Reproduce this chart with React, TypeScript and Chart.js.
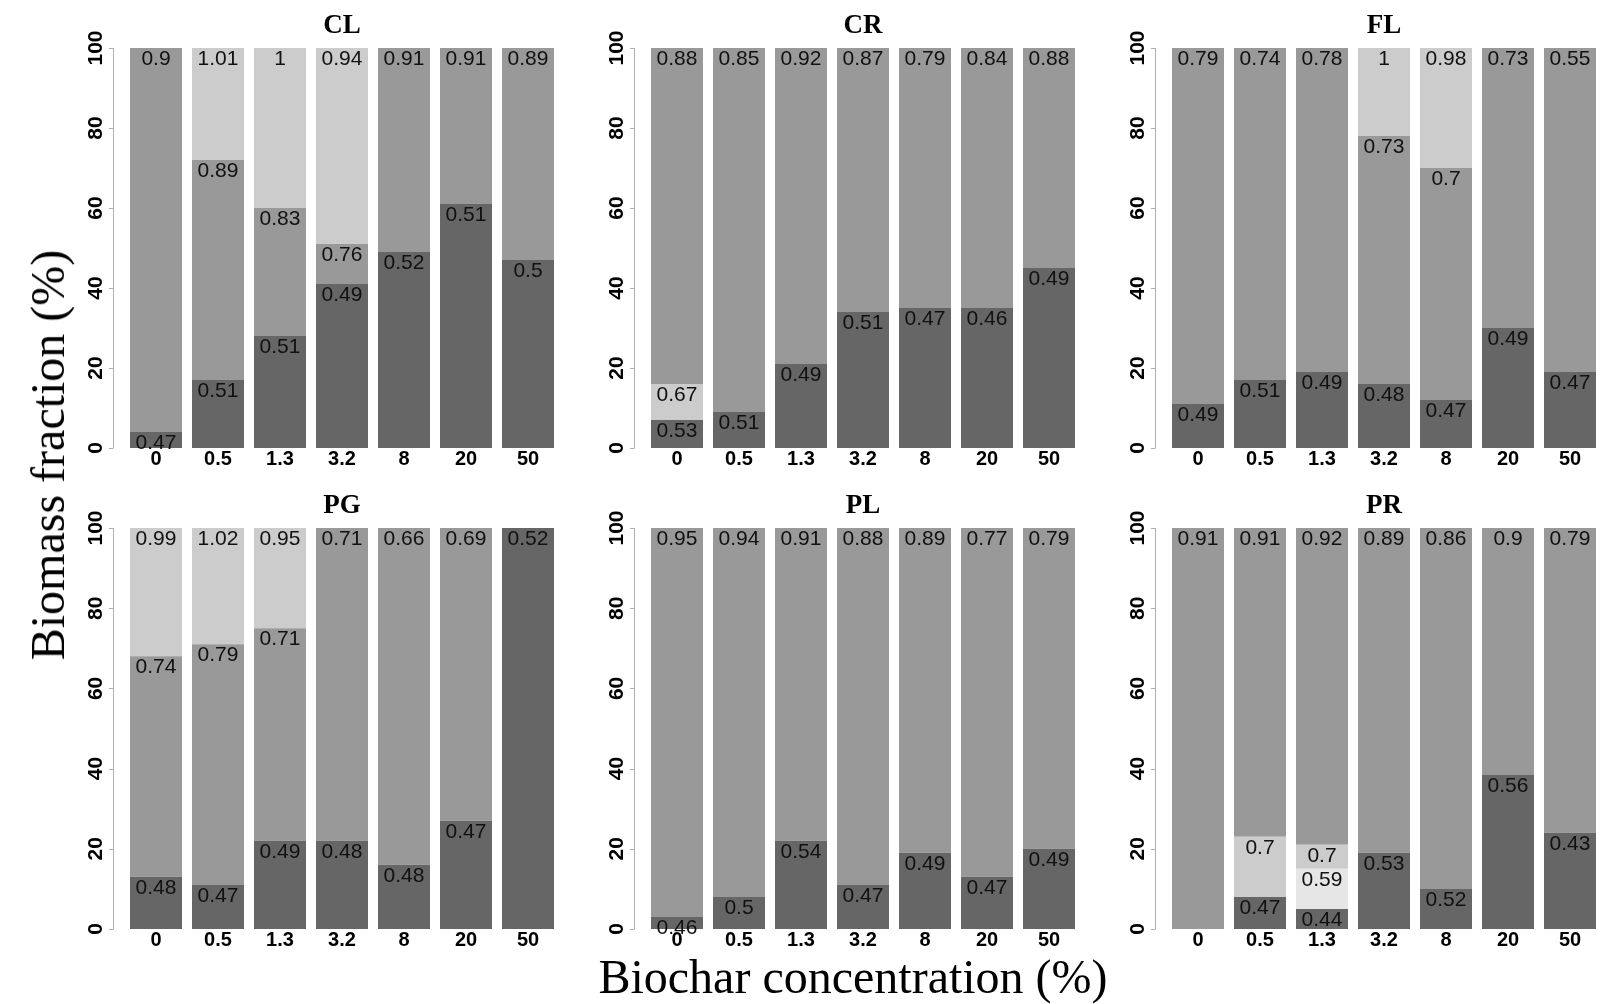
import React, { useEffect, useRef } from 'react';
import { Chart, registerables } from 'chart.js';

Chart.register(...registerables);

const CATEGORIES = ['0', '0.5', '1.3', '3.2', '8', '20', '50'];
const Y_TICKS = [0, 20, 40, 60, 80, 100];
const SHADE: Record<string, string> = { D: '#666666', M: '#999999', L: '#cccccc', X: '#e6e6e6' };

// CL
const CL_TOP_1 = [4, 17, 28, 41, 49, 61, 47];
const CL_LAB_1 = [0.47, 0.51, 0.51, 0.49, 0.52, 0.51, 0.5];
const CL_SHD_1 = 'DDDDDDD';
const CL_TOP_2 = [100, 72, 60, 51, 100, 100, 100];
const CL_LAB_2 = [0.9, 0.89, 0.83, 0.76, 0.91, 0.91, 0.89];
const CL_SHD_2 = 'MMMMMMM';
const CL_TOP_3 = [null, 100, 100, 100, null, null, null];
const CL_LAB_3 = [null, 1.01, 1, 0.94, null, null, null];
const CL_SHD_3 = '.LLL...';

// CR
const CR_TOP_1 = [7, 9, 21, 34, 35, 35, 45];
const CR_LAB_1 = [0.53, 0.51, 0.49, 0.51, 0.47, 0.46, 0.49];
const CR_SHD_1 = 'DDDDDDD';
const CR_TOP_2 = [16, 100, 100, 100, 100, 100, 100];
const CR_LAB_2 = [0.67, 0.85, 0.92, 0.87, 0.79, 0.84, 0.88];
const CR_SHD_2 = 'LMMMMMM';
const CR_TOP_3 = [100, null, null, null, null, null, null];
const CR_LAB_3 = [0.88, null, null, null, null, null, null];
const CR_SHD_3 = 'M......';

// FL
const FL_TOP_1 = [11, 17, 19, 16, 12, 30, 19];
const FL_LAB_1 = [0.49, 0.51, 0.49, 0.48, 0.47, 0.49, 0.47];
const FL_SHD_1 = 'DDDDDDD';
const FL_TOP_2 = [100, 100, 100, 78, 70, 100, 100];
const FL_LAB_2 = [0.79, 0.74, 0.78, 0.73, 0.7, 0.73, 0.55];
const FL_SHD_2 = 'MMMMMMM';
const FL_TOP_3 = [null, null, null, 100, 100, null, null];
const FL_LAB_3 = [null, null, null, 1, 0.98, null, null];
const FL_SHD_3 = '...LL..';

// PG
const PG_TOP_1 = [13, 11, 22, 22, 16, 27, 100];
const PG_LAB_1 = [0.48, 0.47, 0.49, 0.48, 0.48, 0.47, 0.52];
const PG_SHD_1 = 'DDDDDDD';
const PG_TOP_2 = [68, 71, 75, 100, 100, 100, null];
const PG_LAB_2 = [0.74, 0.79, 0.71, 0.71, 0.66, 0.69, null];
const PG_SHD_2 = 'MMMMMM.';
const PG_TOP_3 = [100, 100, 100, null, null, null, null];
const PG_LAB_3 = [0.99, 1.02, 0.95, null, null, null, null];
const PG_SHD_3 = 'LLL....';

// PL
const PL_TOP_1 = [3, 8, 22, 11, 19, 13, 20];
const PL_LAB_1 = [0.46, 0.5, 0.54, 0.47, 0.49, 0.47, 0.49];
const PL_SHD_1 = 'DDDDDDD';
const PL_TOP_2 = [100, 100, 100, 100, 100, 100, 100];
const PL_LAB_2 = [0.95, 0.94, 0.91, 0.88, 0.89, 0.77, 0.79];
const PL_SHD_2 = 'MMMMMMM';

// PR
const PR_TOP_1 = [null, 8, 5, 19, 10, 38.5, 24];
const PR_LAB_1 = [null, 0.47, 0.44, 0.53, 0.52, 0.56, 0.43];
const PR_SHD_1 = '.DDDDDD';
const PR_TOP_2 = [100, 23, 15, 100, 100, 100, 100];
const PR_LAB_2 = [0.91, 0.7, 0.59, 0.89, 0.86, 0.9, 0.79];
const PR_SHD_2 = 'MLXMMMM';
const PR_TOP_3 = [null, 100, 21, null, null, null, null];
const PR_LAB_3 = [null, 0.91, 0.7, null, null, null, null];
const PR_SHD_3 = '.ML....';
const PR_TOP_4 = [null, null, 100, null, null, null, null];
const PR_LAB_4 = [null, null, 0.92, null, null, null, null];
const PR_SHD_4 = '..M....';

type Level = { tops: (number | null)[]; labels: (number | null)[]; shades: string };
type Panel = { title: string; row: number; col: number; levels: Level[] };

const PANELS: Panel[] = [
  { title: 'CL', row: 0, col: 0, levels: [
    { tops: CL_TOP_1, labels: CL_LAB_1, shades: CL_SHD_1 },
    { tops: CL_TOP_2, labels: CL_LAB_2, shades: CL_SHD_2 },
    { tops: CL_TOP_3, labels: CL_LAB_3, shades: CL_SHD_3 },
  ] },
  { title: 'CR', row: 0, col: 1, levels: [
    { tops: CR_TOP_1, labels: CR_LAB_1, shades: CR_SHD_1 },
    { tops: CR_TOP_2, labels: CR_LAB_2, shades: CR_SHD_2 },
    { tops: CR_TOP_3, labels: CR_LAB_3, shades: CR_SHD_3 },
  ] },
  { title: 'FL', row: 0, col: 2, levels: [
    { tops: FL_TOP_1, labels: FL_LAB_1, shades: FL_SHD_1 },
    { tops: FL_TOP_2, labels: FL_LAB_2, shades: FL_SHD_2 },
    { tops: FL_TOP_3, labels: FL_LAB_3, shades: FL_SHD_3 },
  ] },
  { title: 'PG', row: 1, col: 0, levels: [
    { tops: PG_TOP_1, labels: PG_LAB_1, shades: PG_SHD_1 },
    { tops: PG_TOP_2, labels: PG_LAB_2, shades: PG_SHD_2 },
    { tops: PG_TOP_3, labels: PG_LAB_3, shades: PG_SHD_3 },
  ] },
  { title: 'PL', row: 1, col: 1, levels: [
    { tops: PL_TOP_1, labels: PL_LAB_1, shades: PL_SHD_1 },
    { tops: PL_TOP_2, labels: PL_LAB_2, shades: PL_SHD_2 },
  ] },
  { title: 'PR', row: 1, col: 2, levels: [
    { tops: PR_TOP_1, labels: PR_LAB_1, shades: PR_SHD_1 },
    { tops: PR_TOP_2, labels: PR_LAB_2, shades: PR_SHD_2 },
    { tops: PR_TOP_3, labels: PR_LAB_3, shades: PR_SHD_3 },
    { tops: PR_TOP_4, labels: PR_LAB_4, shades: PR_SHD_4 },
  ] },
];

const SANS = "'Liberation Sans', Arial, sans-serif";
const SERIF = "'Liberation Serif', 'Times New Roman', serif";

const decorPlugin = {
  id: 'panelDecor',
  afterDatasetsDraw(chart: any, _args: any, opts: any) {
    const ctx = chart.ctx as CanvasRenderingContext2D;
    const xs = chart.scales.x;
    const ys = chart.scales.y;
    const area = chart.chartArea;
    const levels: Level[] = opts.levels;
    ctx.save();
    // value labels at the top of every segment
    ctx.fillStyle = '#111111';
    ctx.font = `21px ${SANS}`;
    ctx.textAlign = 'center';
    ctx.textBaseline = 'alphabetic';
    levels.forEach((lv) => {
      lv.tops.forEach((t, i) => {
        const lab = lv.labels[i];
        if (t == null || lab == null) return;
        const x = xs.getPixelForValue(i);
        const y = ys.getPixelForValue(t);
        ctx.fillText(String(lab), x, y + 17);
      });
    });
    // y axis
    const axX = area.left - 12;
    ctx.strokeStyle = '#b0b0b0';
    ctx.lineWidth = 1;
    ctx.beginPath();
    ctx.moveTo(axX + 0.5, ys.getPixelForValue(0));
    ctx.lineTo(axX + 0.5, ys.getPixelForValue(100));
    Y_TICKS.forEach((v) => {
      const y = Math.round(ys.getPixelForValue(v)) + 0.5;
      ctx.moveTo(axX + 0.5, y);
      ctx.lineTo(axX - 4, y);
    });
    ctx.stroke();
    ctx.fillStyle = '#000000';
    ctx.font = `bold 21px ${SANS}`;
    ctx.textBaseline = 'middle';
    Y_TICKS.forEach((v) => {
      const y = ys.getPixelForValue(v);
      ctx.save();
      ctx.translate(axX - 17, y);
      ctx.rotate(-Math.PI / 2);
      ctx.fillText(String(v), 0, 0);
      ctx.restore();
    });
    // x tick labels
    ctx.font = `bold 20px ${SANS}`;
    ctx.textBaseline = 'middle';
    CATEGORIES.forEach((c, i) => {
      ctx.fillText(c, xs.getPixelForValue(i), area.bottom + 11);
    });
    // panel title
    ctx.font = `bold 27px ${SERIF}`;
    ctx.textBaseline = 'alphabetic';
    ctx.fillText(opts.title, (area.left + area.right) / 2, area.top - 15);
    ctx.restore();
  },
};

function PanelChart({ panel }: { panel: Panel }) {
  const ref = useRef<HTMLCanvasElement | null>(null);
  const top = panel.row === 0 ? 0 : 480;
  const height = panel.row === 0 ? 480 : 500;
  const padBottom = panel.row === 0 ? 32 : 51;
  const left = panel.col * 521 + 65;
  useEffect(() => {
    if (!ref.current) return;
    const prev: number[] = CATEGORIES.map(() => 0);
    const datasets = panel.levels.map((lv, k) => {
      const data = lv.tops.map((t, i) => {
        if (t == null) return null;
        const h = t - prev[i];
        prev[i] = t;
        return h;
      });
      return {
        label: `level ${k + 1}`,
        data,
        backgroundColor: lv.shades.split('').map((s) => SHADE[s] || 'rgba(0,0,0,0)'),
        borderWidth: 0,
        barPercentage: 52 / 62,
        categoryPercentage: 1,
        stack: 's',
      };
    });
    const chart = new Chart(ref.current, {
      type: 'bar',
      data: { labels: CATEGORIES, datasets },
      options: {
        animation: false,
        responsive: false,
        maintainAspectRatio: false,
        devicePixelRatio: 1,
        layout: { padding: { left: 60, right: 0, top: 48, bottom: padBottom } },
        plugins: {
          legend: { display: false },
          tooltip: { enabled: false },
          panelDecor: { title: panel.title, levels: panel.levels },
        } as any,
        scales: {
          x: { type: 'category', display: false, stacked: true, offset: true },
          y: { type: 'linear', display: false, stacked: true, min: 0, max: 100 },
        },
      },
      plugins: [decorPlugin as any],
    });
    return () => chart.destroy();
  }, []);
  return (
    <canvas
      ref={ref}
      width={494}
      height={height}
      style={{ position: 'absolute', left, top, width: 494, height }}
    />
  );
}

export default function App() {
  return (
    <div
      style={{
        position: 'absolute',
        left: 0,
        top: 0,
        width: 1600,
        height: 1004,
        overflow: 'hidden',
        background: '#ffffff',
      }}
    >
      {PANELS.map((p) => (
        <PanelChart key={p.title} panel={p} />
      ))}
      <div
        style={{
          position: 'absolute',
          left: 853,
          top: 953,
          fontFamily: SERIF,
          fontSize: 48,
          lineHeight: '48px',
          whiteSpace: 'nowrap',
          color: '#000',
          transform: 'translateX(-50%)',
        }}
      >
        Biochar concentration (%)
      </div>
      <div
        style={{
          position: 'absolute',
          left: 48,
          top: 455,
          fontFamily: SERIF,
          fontSize: 48,
          lineHeight: '48px',
          whiteSpace: 'nowrap',
          color: '#000',
          transform: 'translate(-50%, -50%) rotate(-90deg)',
          transformOrigin: 'center center',
        }}
      >
        Biomass fraction (%)
      </div>
    </div>
  );
}
